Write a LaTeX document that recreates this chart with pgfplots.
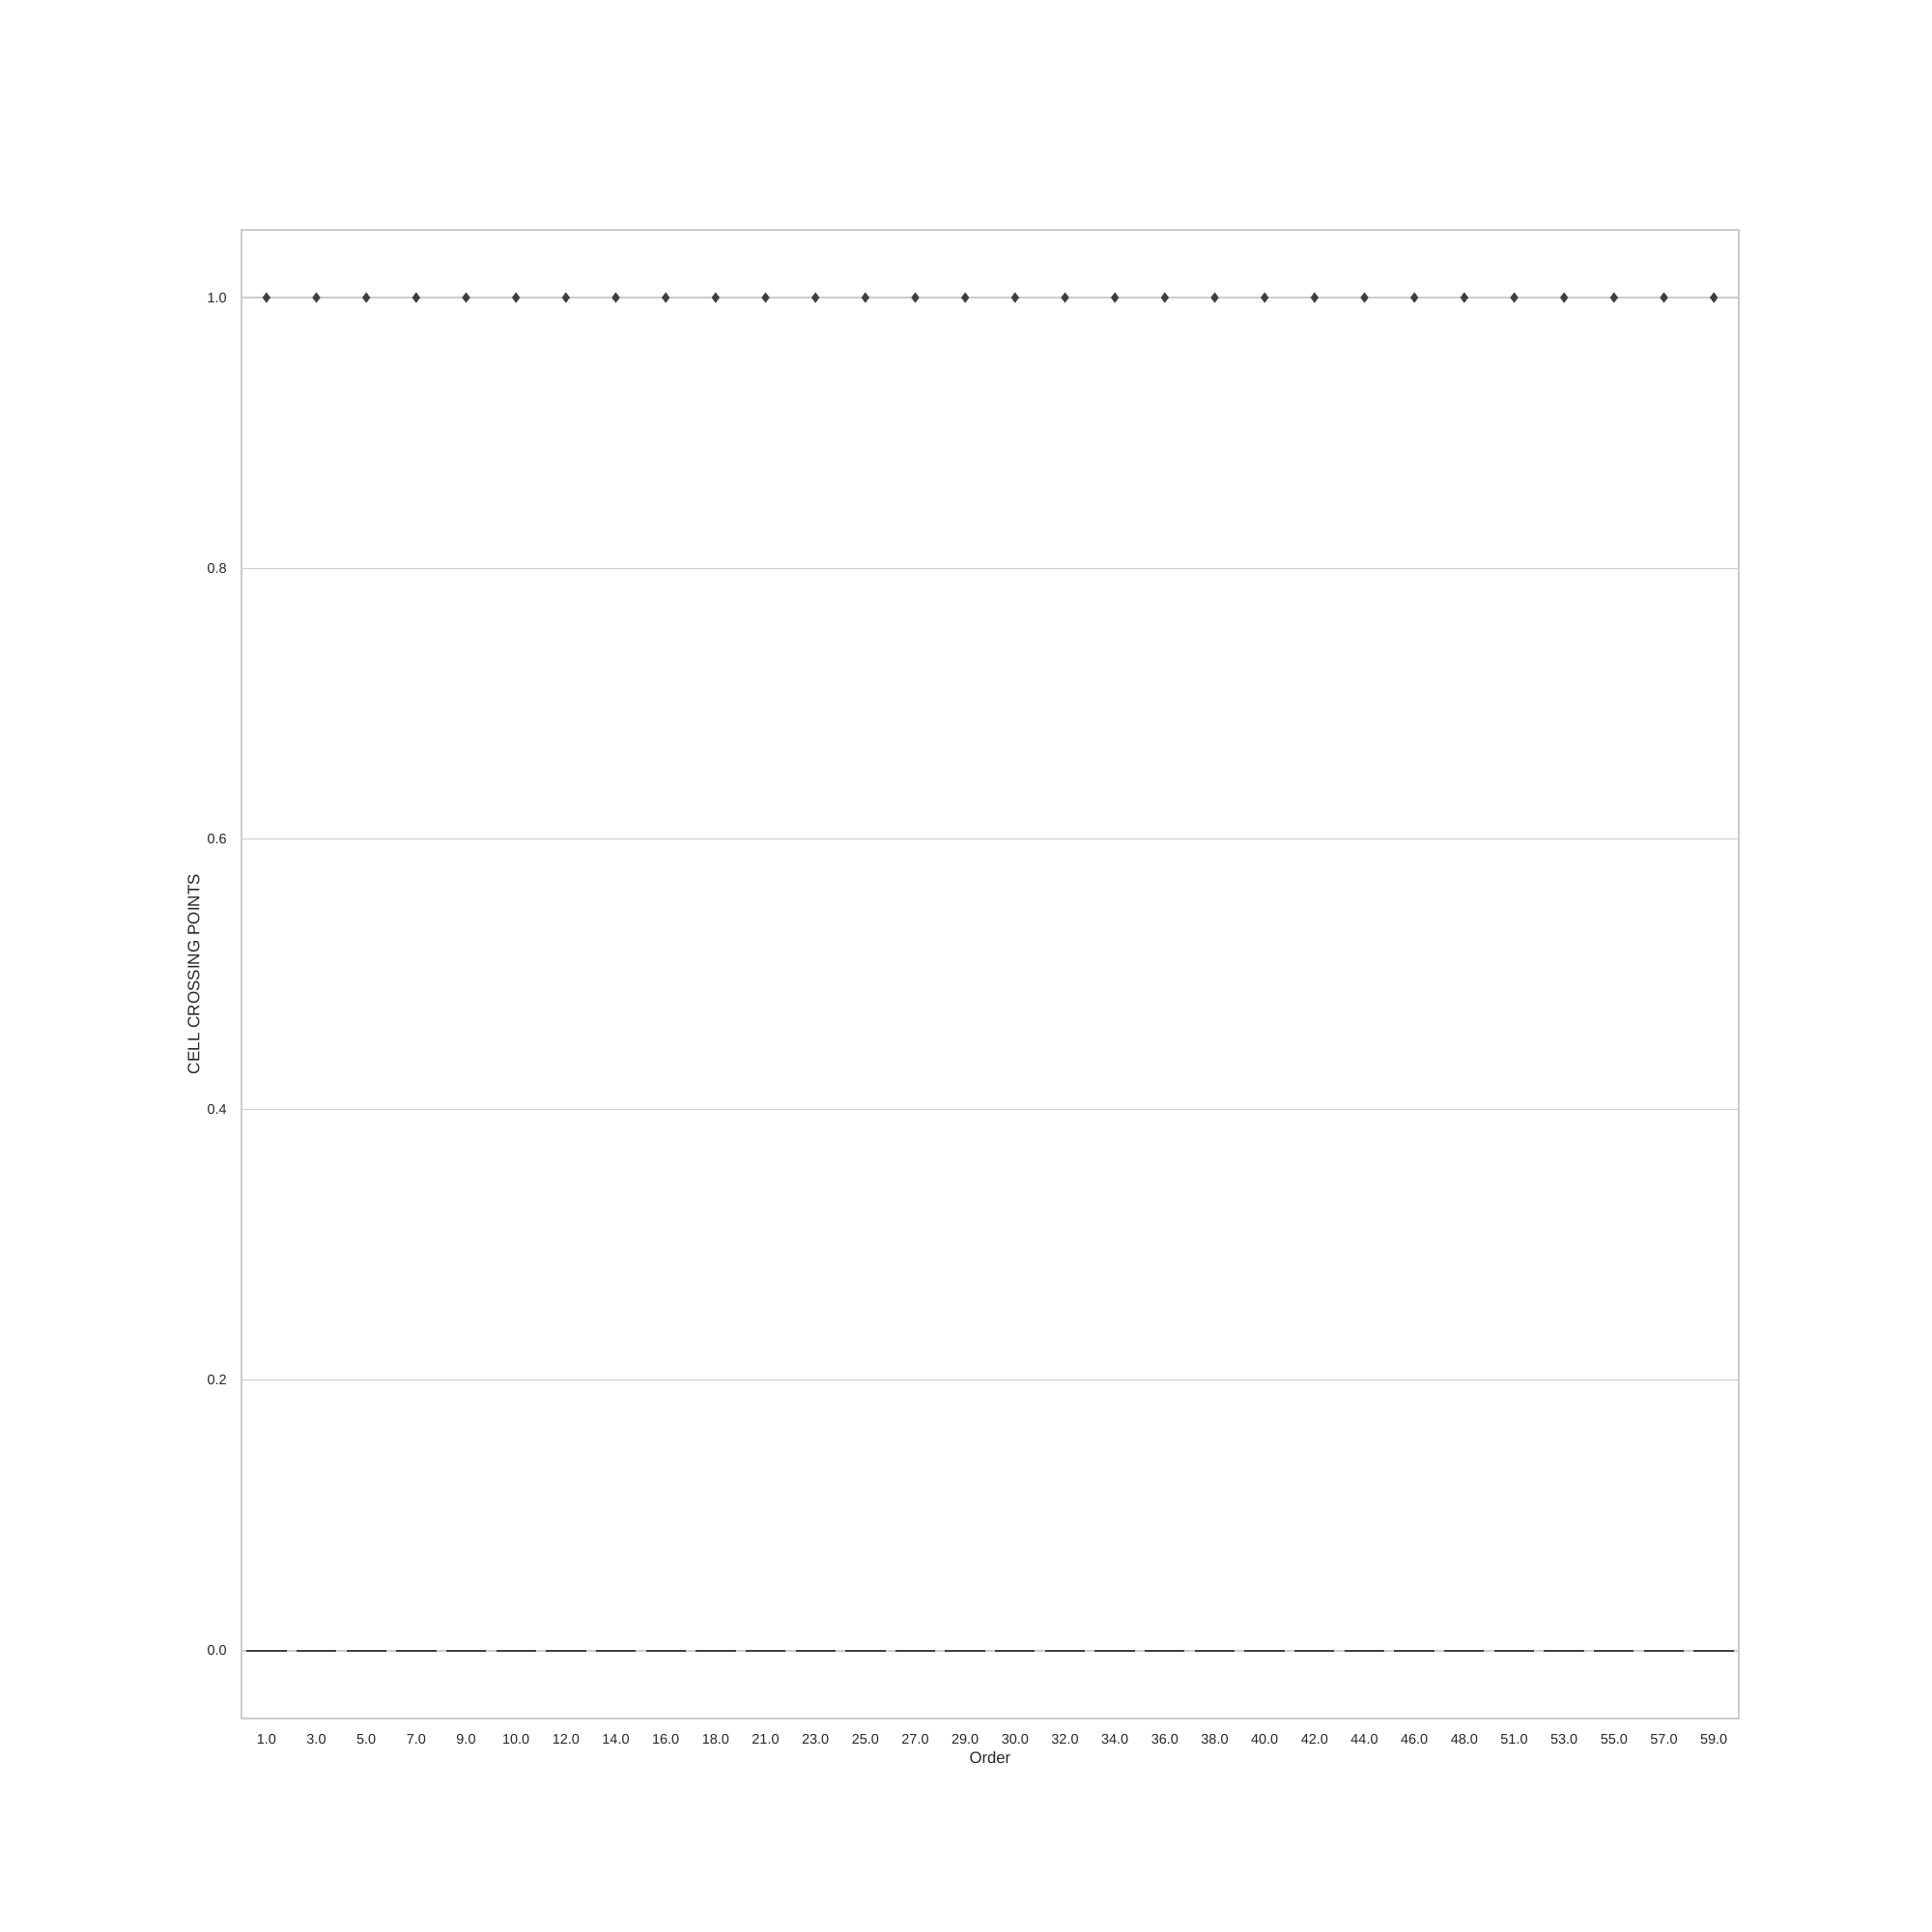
\documentclass[border=0pt]{standalone}
\usepackage{pgfplots}
\pgfplotsset{compat=1.18}
\usepackage{fontspec}
\setmainfont{Liberation Sans}
\definecolor{gridgray}{HTML}{CCCCCC}
\definecolor{boxdark}{HTML}{3F3F3F}
\begin{document}
\begin{tikzpicture}
\path[use as bounding box] (0,0) rectangle (1440pt,1440pt);
\begin{axis}[
  at={(180pt,159.1pt)}, anchor=south west,
  scale only axis,
  width=1116pt, height=1109.5pt,
  xmin=-0.5, xmax=29.5, ymin=-0.05, ymax=1.05,
  xtick={0,...,29},
  xticklabels={1.0,3.0,5.0,7.0,9.0,10.0,12.0,14.0,16.0,18.0,21.0,23.0,25.0,27.0,29.0,30.0,32.0,34.0,36.0,38.0,40.0,42.0,44.0,46.0,48.0,51.0,53.0,55.0,57.0,59.0},
  ytick={0,0.2,0.4,0.6,0.8,1.0},
  yticklabels={0.0,0.2,0.4,0.6,0.8,1.0},
  major tick length=0pt,
  tick label style={font=\fontsize{10.4}{12}\selectfont, text=black!85, inner sep=0pt},
  xticklabel style={anchor=north, yshift=-11.5pt},
  yticklabel style={anchor=east, xshift=-10.8pt},
  ymajorgrids,
  grid style={gridgray, line width=1pt},
  axis line style={gridgray, line width=1.25pt},
  xlabel={Order},
  ylabel={CELL CROSSING POINTS},
  every axis x label/.style={at={(axis description cs:0.5,-0.026)}, anchor=center, font=\fontsize{12}{14}\selectfont, text=black!85},
  every axis y label/.style={at={(axis description cs:-0.0319,0.5)}, anchor=center, rotate=90, font=\fontsize{12.3}{14}\selectfont, text=black!85},
  clip=false,
]
\addplot[draw=none, mark=none, forget plot,
  error bars/.cd, x dir=both, x fixed=0.4, error mark=none,
  error bar style={boxdark, line width=1.5pt}]
  coordinates {(0,0) (1,0) (2,0) (3,0) (4,0) (5,0) (6,0) (7,0) (8,0) (9,0)
  (10,0) (11,0) (12,0) (13,0) (14,0) (15,0) (16,0) (17,0) (18,0) (19,0)
  (20,0) (21,0) (22,0) (23,0) (24,0) (25,0) (26,0) (27,0) (28,0) (29,0)};
\addplot[only marks, mark=diamond*, mark size=3.6pt, color=boxdark, forget plot]
  coordinates {(0,1) (1,1) (2,1) (3,1) (4,1) (5,1) (6,1) (7,1) (8,1) (9,1)
  (10,1) (11,1) (12,1) (13,1) (14,1) (15,1) (16,1) (17,1) (18,1) (19,1)
  (20,1) (21,1) (22,1) (23,1) (24,1) (25,1) (26,1) (27,1) (28,1) (29,1)};
\end{axis}
\end{tikzpicture}
\end{document}
